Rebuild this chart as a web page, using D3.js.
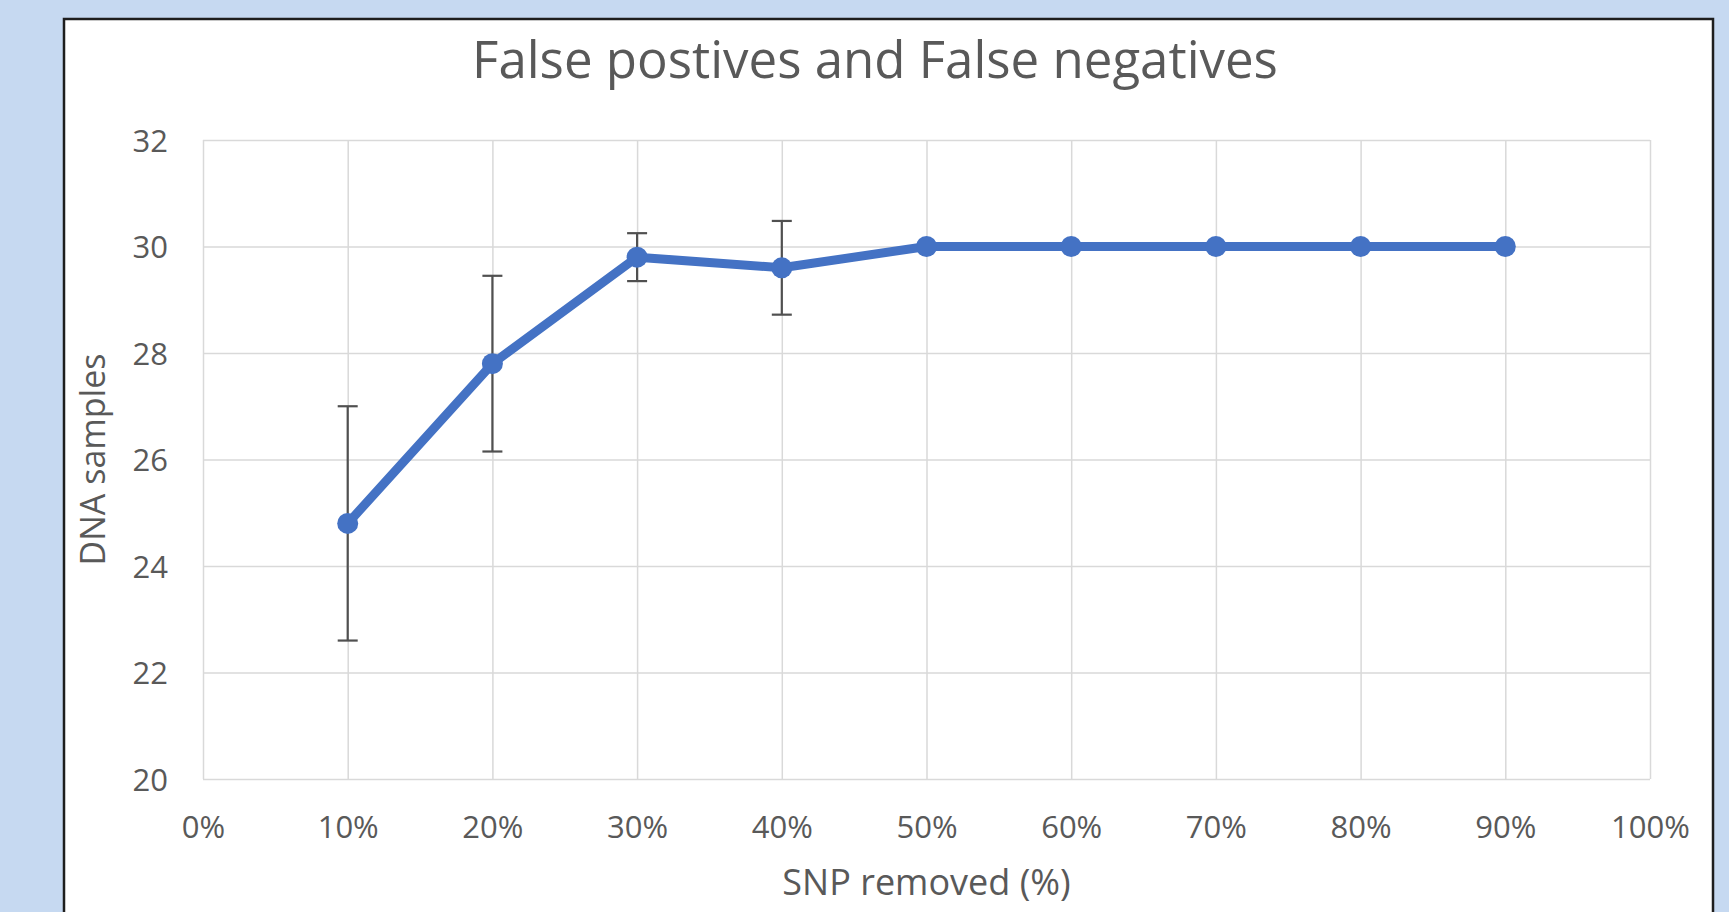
<!DOCTYPE html>
<html>
<head>
<meta charset="utf-8">
<script src="https://cdn.jsdelivr.net/npm/d3@7"></script>
<style>
  html, body { margin: 0; padding: 0; background: #c6d9f1; overflow: hidden; }
  svg { display: block; }
</style>
</head>
<body>
<svg class="chartSVG" width="1729" height="912"></svg>
<script>
// data
const snpRemoved = [10, 20, 30, 40, 50, 60, 70, 80, 90];
const dnaSamples = [24.8, 27.8, 29.8, 29.6, 30, 30, 30, 30, 30];
const errAmount = [2.2, 1.65, 0.45, 0.88, 0, 0, 0, 0, 0];
const xTicks = [0, 10, 20, 30, 40, 50, 60, 70, 80, 90, 100];
const yTicks = [20, 22, 24, 26, 28, 30, 32];

const chartTitle = 'False postives and False negatives';
const xTitle = 'SNP removed (%)';
const yTitle = 'DNA samples';

const fontFam = "'Open Sans', sans-serif";
const textCol = '#595959';
const lineCol = '#4472c4';

const svg = d3.select('svg.chartSVG');

// chart frame
svg.append('rect')
  .attr('x', 64)
  .attr('y', 19)
  .attr('width', 1649)
  .attr('height', 920)
  .style('fill', '#ffffff')
  .style('stroke', '#1e1e1e')
  .style('stroke-width', 2.5);

const plot = { left: 203, right: 1650, top: 140, bottom: 779 };

const xScale = d3.scaleLinear()
  .domain([0, 100])
  .range([plot.left, plot.right]);

const yScale = d3.scaleLinear()
  .domain([20, 32])
  .range([plot.bottom, plot.top]);

// x axis with vertical gridlines
const xAxis = svg.append('g')
  .attr('class', 'xAxis')
  .attr('transform', `translate(0, ${plot.bottom})`)
  .call(d3.axisBottom(xScale)
    .tickValues(xTicks)
    .tickSizeInner(-(plot.bottom - plot.top))
    .tickSizeOuter(0)
    .tickFormat(d => d + '%'));

xAxis.select('.domain').remove();
xAxis.selectAll('line').style('stroke', '#d9d9d9').style('stroke-width', 1.5);
xAxis.selectAll('text')
  .attr('y', 59)
  .attr('dy', 0)
  .style('fill', textCol)
  .style('font-family', fontFam)
  .style('font-size', '31px');

// y axis with horizontal gridlines
const yAxis = svg.append('g')
  .attr('class', 'yAxis')
  .attr('transform', `translate(${plot.left}, 0)`)
  .call(d3.axisLeft(yScale)
    .tickValues(yTicks)
    .tickSizeInner(-(plot.right - plot.left))
    .tickSizeOuter(0));

yAxis.select('.domain').remove();
yAxis.selectAll('line').style('stroke', '#d9d9d9').style('stroke-width', 1.5);
yAxis.selectAll('text')
  .attr('x', -35)
  .attr('dy', '0.36em')
  .style('fill', textCol)
  .style('font-family', fontFam)
  .style('font-size', '31px');

// titles
svg.append('text')
  .attr('class', 'mainTitle')
  .attr('x', 875)
  .attr('y', 78)
  .text(chartTitle)
  .style('text-anchor', 'middle')
  .style('fill', textCol)
  .style('font-family', fontFam)
  .style('font-size', '51px');

svg.append('text')
  .attr('class', 'xTitle')
  .attr('x', (plot.left + plot.right) / 2)
  .attr('y', 895)
  .text(xTitle)
  .style('text-anchor', 'middle')
  .style('fill', textCol)
  .style('font-family', fontFam)
  .style('font-size', '36px');

svg.append('text')
  .attr('class', 'yTitle')
  .attr('transform', `translate(105, ${(plot.top + plot.bottom) / 2}) rotate(-90)`)
  .text(yTitle)
  .style('text-anchor', 'middle')
  .style('fill', textCol)
  .style('font-family', fontFam)
  .style('font-size', '34px');

const points = snpRemoved.map((x, i) => ({ x: x, y: dnaSamples[i], err: errAmount[i] }));

// error bars
const errGrp = svg.append('g').attr('class', 'errGrp');
const capHalf = 10;
const withErr = points.filter(d => d.err > 0);

errGrp.selectAll('line.errStem')
  .data(withErr)
  .enter()
  .append('line')
  .attr('class', 'errStem')
  .attr('x1', d => xScale(d.x))
  .attr('x2', d => xScale(d.x))
  .attr('y1', d => yScale(d.y - d.err))
  .attr('y2', d => yScale(d.y + d.err));

[-1, 1].forEach(sign => {
  errGrp.selectAll(`line.errCap${sign}`)
    .data(withErr)
    .enter()
    .append('line')
    .attr('class', `errCap${sign}`)
    .attr('x1', d => xScale(d.x) - capHalf)
    .attr('x2', d => xScale(d.x) + capHalf)
    .attr('y1', d => yScale(d.y + sign * d.err))
    .attr('y2', d => yScale(d.y + sign * d.err));
});

errGrp.selectAll('line')
  .style('stroke', '#505050')
  .style('stroke-width', 2.2);

// series line
const lineGen = d3.line()
  .x(d => xScale(d.x))
  .y(d => yScale(d.y));

svg.append('path')
  .datum(points)
  .attr('class', 'seriesLine')
  .attr('d', lineGen)
  .style('fill', 'none')
  .style('stroke', lineCol)
  .style('stroke-width', 9)
  .style('stroke-linejoin', 'round')
  .style('stroke-linecap', 'round');

svg.selectAll('circle.marker')
  .data(points)
  .enter()
  .append('circle')
  .attr('class', 'marker')
  .attr('cx', d => xScale(d.x))
  .attr('cy', d => yScale(d.y))
  .attr('r', 10.5)
  .style('fill', lineCol);
</script>
</body>
</html>
